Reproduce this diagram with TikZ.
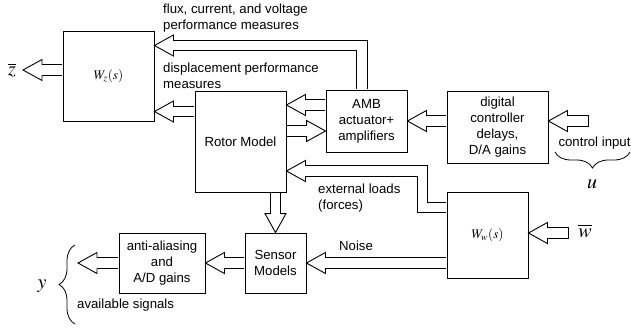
\documentclass[tikz,border=0pt]{standalone}
\usepackage{mathptmx}
\usepackage{fontspec}
\setmainfont{Liberation Sans}
\usetikzlibrary{decorations.pathreplacing}
\tikzset{
  blk/.style={draw, line width=0.9pt, align=center, inner sep=0pt},
  shaft/.style={double, double distance=9.6pt, line width=0.9pt, shorten <=0.5pt, shorten >=19pt},
  tipL/.pic={\draw[line width=0.9pt] (19pt,5.25pt) -- (19pt,10.5pt) -- (0,0) -- (19pt,-10.5pt) -- (19pt,-5.25pt);},
  lbl/.style={inner sep=0pt, align=left},
  sym/.style={inner sep=0pt, font=\fontsize{20}{24}\selectfont},
  brc/.style={decorate, line width=0.8pt, decoration={brace, amplitude=16pt}}
}
\begin{document}
\begin{tikzpicture}[x=1pt, y=-1pt, font=\fontsize{13.2}{16}\selectfont]
\useasboundingbox (0,0) rectangle (631,327);
%Khoi
\node[blk, minimum width=91pt, minimum height=90pt] (wz) at (108.5,76) {$W_z(s)$};
\node[blk, minimum width=91pt, minimum height=101pt] (rotor) at (240.5,141.5) {Rotor Model};
\node[blk, minimum width=81pt, minimum height=62pt] (amb) at (366.5,121) {AMB\\actuator+\\amplifiers};
\node[blk, minimum width=101pt, minimum height=72pt] (dig) at (497.5,127) {digital\\controller\\delays,\\D/A gains};
\node[blk, minimum width=81pt, minimum height=86pt] (ww) at (487.5,235) {$W_w(s)$};
\node[blk, minimum width=61pt, minimum height=60pt] (sensor) at (275.5,263) {Sensor\\Models};
\node[blk, minimum width=86pt, minimum height=60pt] (anti) at (162,263) {anti-aliasing\\and\\A/D gains};
%Diem phu
\coordinate (zout) at (23,70);
\coordinate (fl) at (362,45.5);
\coordinate (dp) at ([yshift=30pt]rotor.west);
\coordinate (ar1) at ([yshift=16pt]amb.west);
\coordinate (ar2) at ([yshift=-10pt]amb.west);
\coordinate (cin) at (588,121);
\coordinate (el1) at (422.5,207.5);
\coordinate (el2) at (422.5,171);
\coordinate (win) at (568,233);
\coordinate (yout) at (78,263);
%Mui ten
\draw[shaft] (wz.west |- zout) -- (zout);
\pic at (zout) {tipL};
\draw[shaft] (fl |- amb.north) -- (fl) -- (fl -| wz.east);
\pic at (fl -| wz.east) {tipL};
\draw[shaft] (dp) -- (dp -| wz.east);
\pic at (dp -| wz.east) {tipL};
\draw[shaft] (ar1) -- (ar1 -| rotor.east);
\pic at (ar1 -| rotor.east) {tipL};
\draw[shaft] (ar2 -| rotor.east) -- (ar2);
\pic[rotate=180] at (ar2) {tipL};
\draw[shaft] (dig.west |- amb.east) -- (amb.east);
\pic at (amb.east) {tipL};
\draw[shaft, shorten <=0pt] (cin) -- (cin -| dig.east);
\draw[line width=0.9pt] ([yshift=5.7pt]cin) -- ([yshift=-5.7pt]cin);
\pic at (cin -| dig.east) {tipL};
\draw[shaft] (ww.west |- el1) -- (el1) -- (el2) -- (el2 -| rotor.east);
\pic at (el2 -| rotor.east) {tipL};
\draw[shaft] (ww.west |- sensor.east) -- (sensor.east);
\pic at (sensor.east) {tipL};
\draw[shaft] (sensor.north |- rotor.south) -- (sensor.north);
\pic[rotate=90] at (sensor.north) {tipL};
\draw[shaft] (sensor.west) -- (anti.east);
\pic at (anti.east) {tipL};
\draw[shaft] (anti.west) -- (yout);
\pic at (yout) {tipL};
\draw[shaft, shorten <=0pt] (win) -- (win -| ww.east);
\draw[line width=0.9pt] ([yshift=5.7pt]win) -- ([yshift=-5.7pt]win);
\pic at (win -| ww.east) {tipL};
%Nhan
\node[lbl, anchor=west] (lflux) at (163,18.5) {flux, current, and voltage\\performance measures};
\node[lbl, anchor=west] (ldisp) at (163,76) {displacement performance\\measures};
\node[lbl, anchor=west] (lext) at (318,198) {external loads\\(forces)};
\node[lbl] (lnoise) at (356,246) {Noise};
\node[lbl] (lcin) at (594.5,143) {control input};
\node[lbl, anchor=west] (lavail) at (77,305) {available signals};
\node[sym] (zbar) at (12,70) {$\overline{z}$};
\node[sym] (ylab) at (42,286) {$y$};
\node[sym] (ulab) at (592,184) {$u$};
\node[sym] (wbar) at (585,231) {$\overline{w}$};
%Ngoac
\draw[brc] (630,152) -- (555,152);
\draw[brc] (75,324) -- (75,245);
\end{tikzpicture}
\end{document}
